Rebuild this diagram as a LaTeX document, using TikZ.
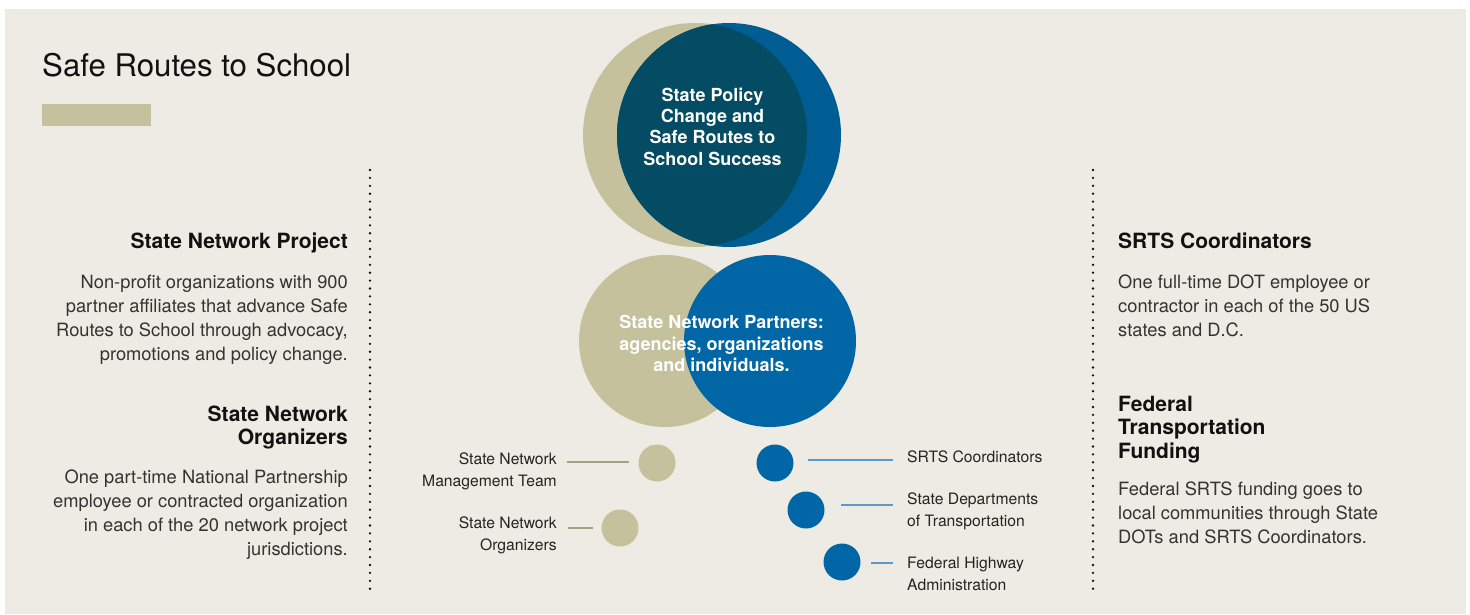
\documentclass[tikz,border=0pt]{standalone}
\usepackage{fontspec}
\setmainfont{TeX Gyre Heros}
\usetikzlibrary{calc}
\definecolor{bgc}{HTML}{EDEBE3}
\definecolor{tanc}{HTML}{C5C19C}
\definecolor{topblue}{HTML}{005D93}
\definecolor{darkc}{HTML}{044C63}
\definecolor{midblue}{HTML}{0066A5}
\definecolor{tanline}{HTML}{A3A184}
\definecolor{blueline}{HTML}{5A9ACB}
\definecolor{bodyc}{HTML}{333333}
\definecolor{headc}{HTML}{111111}
\begin{document}
\begin{tikzpicture}[x=1pt,y=-1pt,
  big/.style={circle,inner sep=0pt,minimum size=224pt},
  mid/.style={circle,inner sep=0pt,minimum size=172pt},
  dot/.style={circle,inner sep=0pt,minimum size=37pt},
  whitetext/.style={text=white,inner sep=0pt,align=center,anchor=base,font=\bfseries\fontsize{18}{21.3}\selectfont},
  heading/.style={text=headc,inner sep=0pt,font=\bfseries\fontsize{21}{23.8}\selectfont},
  bodytext/.style={text=bodyc,inner sep=0pt,font=\fontsize{18.3}{24}\selectfont},
  small/.style={text=headc!92!white,inner sep=0pt,font=\fontsize{15.7}{22}\selectfont},
  dotline/.style={draw=headc,line width=2.6pt,line cap=round,dash pattern=on 0pt off 7.9pt},
  tanconn/.style={draw=tanline,line width=2.4pt},
  blueconn/.style={draw=blueline,line width=2.4pt}]
\useasboundingbox (0,0) rectangle (1470,614);
\fill[bgc] (5,9) rectangle (1466,614);

% title
\node[text=headc,inner sep=0pt,anchor=base west,font=\fontsize{31.2}{36}\selectfont] (title) at (42,76) {Safe Routes to School};
\fill[tanc] (42,104) rectangle (151,126);

% top circles
\node[big,fill=tanc] (tanbig) at (695,135) {};
\node[big,fill=topblue] (bluebig) at (729,135) {};
\begin{scope}
  \clip (695,135) circle[radius=112];
  \fill[darkc] (729,135) circle[radius=112];
\end{scope}
\node[whitetext] (toptext) at (712.5,165) {State Policy\\Change and\\Safe Routes to\\School Success};

% middle circles
\node[mid,fill=tanc] (tanmid) at (665,341) {};
\node[mid,fill=midblue] (bluemid) at (770,341) {};
\node[whitetext] (midtext) at (721.5,371.5) {State Network Partners:\\agencies, organizations\\and individuals.};

% small circles
\node[dot,fill=tanc] (c1) at (657,463) {};
\node[dot,fill=tanc] (c2) at (620,528) {};
\node[dot,fill=midblue] (c3) at (775,463) {};
\node[dot,fill=midblue] (c4) at (806,510) {};
\node[dot,fill=midblue] (c5) at (842,562) {};

\node[small,anchor=base east,align=right] (l1) at (557,486) {State Network\\Management Team};
\node[small,anchor=base east,align=right] (l2) at (557,550) {State Network\\Organizers};
\node[small,anchor=base west,align=left] (l3) at (907,462) {SRTS Coordinators};
\node[small,anchor=base west,align=left] (l4) at (907,526) {State Departments\\of Transportation};
\node[small,anchor=base west,align=left] (l5) at (907,590) {Federal Highway\\Administration};

\draw[tanconn] ([xshift=10pt]l1.east |- 0,462) -- ([xshift=-9.5pt]c1.west |- 0,462);
\draw[tanconn] ([xshift=11pt]l2.east |- 0,528) -- ([xshift=-8.5pt]c2.west |- 0,528);
\draw[blueconn] ([xshift=14.5pt]c3.east |- 0,460) -- ([xshift=-14pt]l3.west |- 0,460);
\draw[blueconn] ([xshift=16.5pt]c4.east |- 0,505) -- ([xshift=-14pt]l4.west |- 0,505);
\draw[blueconn] ([xshift=10.5pt]c5.east |- 0,563) -- ([xshift=-14pt]l5.west |- 0,563);

% dotted separators
\coordinate (dla) at (370,170);
\coordinate (dlb) at (370,592);
\coordinate (dra) at (1093,170);
\coordinate (drb) at (1093,592);
\draw[dotline] (dla) -- (dlb);
\draw[dotline] (dra) -- (drb);

% left texts
\node[heading,anchor=base east,align=right] (h1) at (348,248) {State Network Project};
\node[bodytext,anchor=base east,align=right] (b1) at (348,360) {Non-profit organizations with 900\\partner affiliates that advance Safe\\Routes to School through advocacy,\\promotions and policy change.};
\node[heading,anchor=base east,align=right] (h2) at (348,444.8) {State Network\\Organizers};
\node[bodytext,anchor=base east,align=right] (b2) at (348,555) {One part-time National Partnership\\employee or contracted organization\\in each of the 20 network project\\jurisdictions.};

% right texts
\node[heading,anchor=base west,align=left] (h3) at (1118,248) {SRTS Coordinators};
\node[bodytext,anchor=base west,align=left] (b3) at (1118,336) {One full-time DOT employee or\\contractor in each of the 50 US\\states and D.C.};
\node[heading,anchor=base west,align=left] (h4) at (1118,458.6) {Federal\\Transportation\\Funding};
\node[bodytext,anchor=base west,align=left] (b4) at (1118,543) {Federal SRTS funding goes to\\local communities through State\\DOTs and SRTS Coordinators.};
\end{tikzpicture}
\end{document}
